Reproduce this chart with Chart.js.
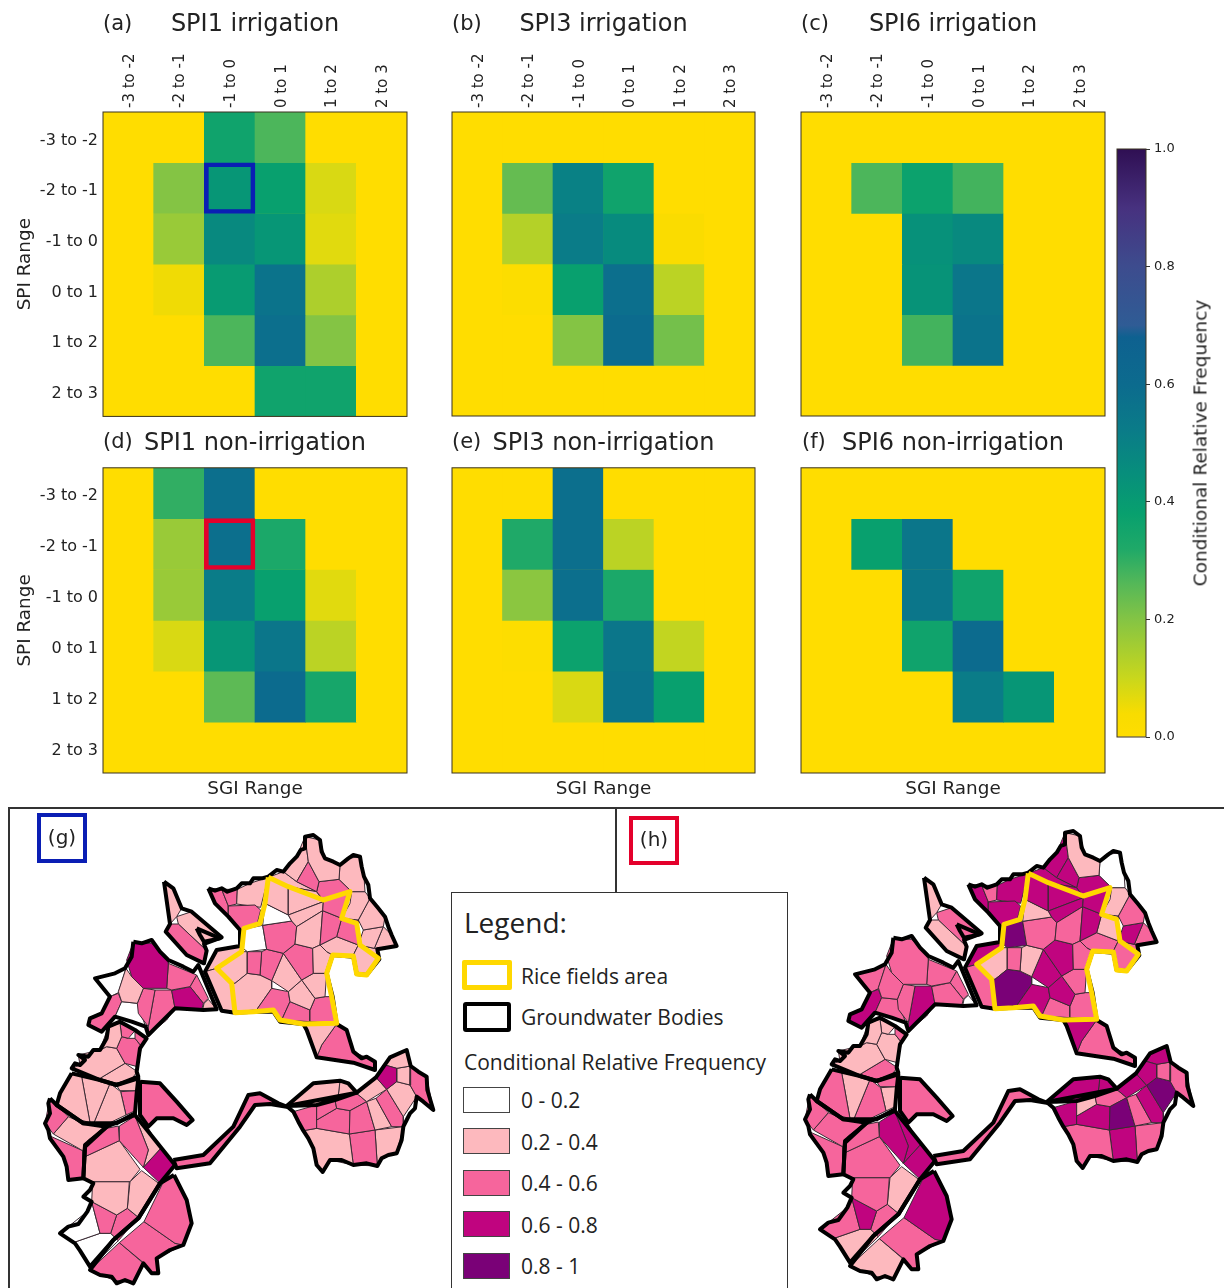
<!DOCTYPE html>
<html>
<head>
<meta charset="utf-8">
<script src="https://cdn.jsdelivr.net/npm/chart.js@4"></script>
<style>
html, body { margin: 0; padding: 0; background: #fff; }
#page { position: relative; width: 1224px; height: 1288px; overflow: hidden; font-family: "DejaVu Sans", sans-serif; color: #222; }
canvas { position: absolute; }
.tag { position: absolute; font-size: 21px; line-height: 24px; white-space: nowrap; }
.rule { position: absolute; background: #333; }
.mapTag { position: absolute; box-sizing: border-box; border-width: 4px; border-style: solid; font-size: 20px; text-align: center; }
#barTitle { position: absolute; left: 1200px; top: 443px; font-size: 18.5px; white-space: nowrap; transform: translate(-50%, -50%) rotate(-90deg); }
#legend { position: absolute; left: 451px; top: 892px; width: 337px; height: 400px; box-sizing: border-box; border: 1.5px solid #333; background: #fff; font-family: "Open Sans", sans-serif; }
#legend div { position: absolute; white-space: nowrap; }
#legend .label { font-size: 21px; line-height: 28px; left: 69px; }
#legend .swatch { left: 11px; width: 47px; height: 26px; box-sizing: border-box; border: 1.5px solid #444; }
</style>
</head>
<body>
<div id="page">
  <div class="rule" style="left:8px;top:807px;width:1216px;height:1.5px"></div>
  <div class="rule" style="left:8px;top:807px;width:1.5px;height:481px"></div>
  <div class="rule" style="left:615px;top:807px;width:1.5px;height:85px"></div>

  <canvas id="mapG" width="615" height="488" style="left:0;top:800px"></canvas>
  <canvas id="mapH" width="608" height="488" style="left:616px;top:800px"></canvas>

  <canvas id="heatA" width="419" height="431" style="left:0;top:0"></canvas>
  <canvas id="heatB" width="327" height="428" style="left:440px;top:0"></canvas>
  <canvas id="heatC" width="328" height="428" style="left:789px;top:0"></canvas>
  <canvas id="heatD" width="419" height="375" style="left:0;top:425px"></canvas>
  <canvas id="heatE" width="327" height="375" style="left:440px;top:425px"></canvas>
  <canvas id="heatF" width="328" height="375" style="left:789px;top:425px"></canvas>
  <canvas id="colorbar" width="124" height="620" style="left:1100px;top:130px"></canvas>
  <div id="barTitle">Conditional Relative Frequency</div>

  <div class="tag" style="left:103px;top:11px">(a)</div>
  <div class="tag" style="left:452px;top:11px">(b)</div>
  <div class="tag" style="left:801px;top:11px">(c)</div>
  <div class="tag" style="left:103px;top:429px">(d)</div>
  <div class="tag" style="left:452px;top:429px">(e)</div>
  <div class="tag" style="left:802px;top:429px">(f)</div>
  <div class="mapTag" style="left:37px;top:813px;width:50px;height:50px;border-color:#0a1eb4;line-height:40px">(g)</div>
  <div class="mapTag" style="left:629px;top:816px;width:50px;height:49px;border-color:#e4002b;line-height:39px">(h)</div>

  <div id="legend">
    <div style="left:12px;top:10px;font-size:28px;line-height:38px">Legend:</div>
    <div class="swatch" style="left:10px;top:67px;width:50px;height:30px;border:5px solid #ffd800;border-radius:2px"></div>
    <div class="label" style="top:69px">Rice fields area</div>
    <div class="swatch" style="left:11px;top:109px;width:48px;height:30px;border:4px solid #000;border-radius:3px"></div>
    <div class="label" style="top:110px">Groundwater Bodies</div>
    <div class="label" style="left:12px;top:155px">Conditional Relative Frequency</div>
    <div class="swatch" style="top:194px;background:#fff"></div><div class="label" style="top:193px">0 - 0.2</div>
    <div class="swatch" style="top:235px;background:#fdb9be"></div><div class="label" style="top:235px">0.2 - 0.4</div>
    <div class="swatch" style="top:277px;background:#f6659c"></div><div class="label" style="top:276px">0.4 - 0.6</div>
    <div class="swatch" style="top:318px;background:#c0047f"></div><div class="label" style="top:318px">0.6 - 0.8</div>
    <div class="swatch" style="top:360px;background:#7a0177"></div><div class="label" style="top:359px">0.8 - 1</div>
  </div>
</div>

<script>
// heatmap labels
const sgiLabels = ['-3 to -2', '-2 to -1', '-1 to 0', '0 to 1', '1 to 2', '2 to 3'];
const spiLabels = ['-3 to -2', '-2 to -1', '-1 to 0', '0 to 1', '1 to 2', '2 to 3'];

// conditional relative frequency, rows = SPI, columns = SGI
const spi1Irrigation = [
    [0, 0, 0.36, 0.27, 0, 0],
    [0, 0.2, 0.42, 0.38, 0.08, 0],
    [0, 0.17, 0.47, 0.42, 0.07, 0],
    [0, 0.05, 0.4, 0.56, 0.14, 0],
    [0, 0, 0.27, 0.58, 0.2, 0],
    [0, 0, 0, 0.36, 0.36, 0]
];
const spi3Irrigation = [
    [0, 0, 0, 0, 0, 0],
    [0, 0.24, 0.5, 0.36, 0, 0],
    [0, 0.13, 0.52, 0.46, 0.03, 0],
    [0, 0.02, 0.38, 0.58, 0.12, 0],
    [0, 0, 0.2, 0.6, 0.22, 0],
    [0, 0, 0, 0, 0, 0]
];
const spi6Irrigation = [
    [0, 0, 0, 0, 0, 0],
    [0, 0.27, 0.37, 0.28, 0, 0],
    [0, 0, 0.44, 0.47, 0, 0],
    [0, 0, 0.43, 0.55, 0, 0],
    [0, 0, 0.28, 0.56, 0, 0],
    [0, 0, 0, 0, 0, 0]
];
const spi1NonIrrigation = [
    [0, 0.3, 0.58, 0, 0, 0],
    [0, 0.17, 0.58, 0.33, 0, 0],
    [0, 0.17, 0.52, 0.38, 0.07, 0],
    [0, 0.08, 0.42, 0.55, 0.12, 0],
    [0, 0, 0.25, 0.6, 0.34, 0],
    [0, 0, 0, 0, 0, 0]
];
const spi3NonIrrigation = [
    [0, 0, 0.58, 0, 0, 0],
    [0, 0.32, 0.58, 0.12, 0, 0],
    [0, 0.19, 0.58, 0.33, 0, 0],
    [0, 0.01, 0.37, 0.55, 0.11, 0],
    [0, 0, 0.08, 0.56, 0.38, 0],
    [0, 0, 0, 0, 0, 0]
];
const spi6NonIrrigation = [
    [0, 0, 0, 0, 0, 0],
    [0, 0.38, 0.55, 0, 0, 0],
    [0, 0, 0.55, 0.36, 0, 0],
    [0, 0, 0.36, 0.6, 0, 0],
    [0, 0, 0, 0.52, 0.42, 0],
    [0, 0, 0, 0, 0, 0]
];

// colour map of the heatmaps and colour bar
const colorStops = [
    [0, '#ffdd00'], [0.04, '#f8dc00'], [0.1, '#c9d71c'], [0.2, '#84c444'], [0.26, '#55b858'],
    [0.32, '#1fa968'], [0.38, '#08a06e'], [0.45, '#078e7c'], [0.52, '#0a7c88'], [0.6, '#0c6b8e'],
    [0.68, '#0e6190'], [0.7, '#2f5c95'], [0.8, '#3d4c8e'], [0.9, '#47317f'], [1, '#2f0f53']
];

// choropleth classes
const classColors = ['#ffffff', '#fdb9be', '#f6659c', '#c0047f', '#7a0177'];

// eastern part of the map, in the frame shifted by eastShift
const eastShift = [420, 60];
const eastCells = [
    [[495,50],[540,60],[555,115],[600,135],[597,178],[537,185],[505,125]],
    [[505,125],[537,185],[530,215],[470,185]],
    [[430,155],[470,110],[495,50],[505,125],[470,185]],
    [[600,135],[625,115],[660,110],[672,170],[675,215],[635,215],[597,178]],
    [[537,185],[597,178],[635,215],[550,240],[530,215]],
    [[635,215],[675,215],[690,235],[655,300],[605,295],[630,250]],
    [[690,235],[735,290],[730,320],[670,330],[655,300]],
    [[670,330],[730,320],[703,385],[655,375]],
    [[730,320],[755,345],[770,378],[703,385]],
    [[655,375],[703,385],[712,388],[718,418],[680,465],[650,462],[640,405]],
    [[550,245],[630,215],[605,295],[548,272]],
    [[548,272],[605,295],[590,350],[540,375]],
    [[605,295],[655,300],[655,375],[590,350]],
    [[540,375],[590,350],[655,375],[640,405],[578,405],[560,395]],
    [[518,385],[540,375],[560,395],[578,405],[560,460],[520,460]],
    [[470,320],[548,272],[540,375],[518,385],[465,372]],
    [[445,285],[550,245],[548,272],[470,320],[455,303]],
    [[445,200],[530,215],[550,245],[445,285]],
    [[385,172],[445,200],[445,285],[375,250]],
    [[385,172],[430,155],[470,185],[530,215],[445,200]],
    [[375,250],[445,285],[455,303],[368,316]],
    [[368,316],[455,303],[470,320],[465,372],[430,400],[380,388]],
    [[300,330],[368,316],[380,388],[322,395],[300,378]],
    [[322,395],[365,395],[360,465],[322,460]],
    [[365,395],[380,388],[430,400],[395,482],[360,465]],
    [[430,400],[465,372],[518,385],[520,460],[485,480]],
    [[430,400],[485,480],[445,515],[395,482]],
    [[485,480],[520,460],[560,460],[555,530],[525,535]],
    [[485,480],[525,535],[510,570],[450,545],[445,515]],
    [[525,535],[555,530],[578,530],[590,610],[510,605],[510,570]],
    [[450,545],[510,570],[510,605],[425,600]],
    [[395,505],[445,515],[450,545],[425,600],[400,572],[348,572]],
    [[285,490],[322,460],[360,465],[395,482],[395,505],[348,572],[285,578],[275,490]],
    [[230,445],[305,395],[322,395],[322,460],[285,490],[275,490]],
    [[195,455],[230,445],[275,490],[285,578],[245,570]],
    [[230,390],[300,378],[305,395],[230,445],[195,455]],
    [[265,258],[345,255],[362,270],[352,310],[300,330],[265,290]],
    [[292,208],[330,190],[385,172],[362,262],[290,252]],
    [[245,208],[292,208],[290,252],[265,258]],
    [[205,205],[245,208],[265,258],[265,290],[225,250]],
    [[490,612],[590,612],[545,675],[530,712],[500,630]],
    [[590,612],[620,630],[640,695],[705,725],[705,750],[640,728],[530,712],[545,675]],
    [[735,735],[770,745],[770,785],[740,808],[708,772]],
    [[750,712],[800,690],[812,738],[770,745],[735,735]],
    [[770,745],[812,738],[810,795],[770,785]],
    [[812,738],[860,770],[880,870],[830,830],[810,795]],
    [[650,820],[708,772],[740,808],[680,845]],
    [[740,808],[770,785],[810,795],[830,830],[790,890]],
    [[708,835],[740,808],[790,890],[790,920],[755,920]],
    [[680,845],[708,835],[755,920],[705,930]],
    [[630,872],[680,845],[705,930],[628,942]],
    [[585,840],[650,820],[680,845],[630,872],[590,865]],
    [[440,858],[520,790],[600,782],[595,825],[530,855],[470,860]],
    [[600,782],[625,790],[650,820],[585,840],[595,825]],
    [[530,855],[585,840],[590,865],[530,900]],
    [[530,900],[590,865],[630,872],[628,942],[530,925]],
    [[460,875],[530,855],[530,925],[490,932]],
    [[490,932],[530,925],[628,942],[640,1035],[570,1020],[548,1056],[530,1035],[520,985]],
    [[628,942],[705,930],[712,1038],[640,1035]],
    [[705,930],[790,920],[770,1000],[725,1015],[712,1038]],
    [[100,1020],[190,1005],[280,920],[325,825],[360,820],[415,850],[440,860],[390,852],[345,855],[300,920],[210,1030],[110,1045]]
];
const eastClassG = [1,2,1,1,2,1,1,1,1,1,2,2,2,1,1,1,1,1,1,1,0,2,0,2,2,2,1,1,1,2,2,2,1,1,1,1,2,1,2,2,1,2,3,1,1,2,1,1,2,1,2,2,1,1,2,2,2,1,2,1,2];
const eastClassH = [1,3,3,0,3,1,2,3,2,2,3,3,1,2,2,2,3,3,3,3,1,2,4,2,1,3,3,2,3,2,2,3,4,1,2,3,3,3,2,3,3,2,3,3,2,2,3,4,3,2,4,2,3,3,1,3,3,2,3,2,2];

// western part of the map
const westCells = [
    [[492,245],[520,265],[545,325],[530,350],[510,372]],
    [[497,395],[510,372],[535,372],[620,452],[612,490],[560,465]],
    [[530,350],[575,335],[665,412],[612,432],[620,452],[535,372]],
    [[380,480],[400,428],[455,430],[505,480],[505,490],[500,565],[430,565],[395,530]],
    [[505,490],[590,525],[570,560],[515,570],[500,565]],
    [[515,572],[570,560],[610,610],[605,630],[525,625]],
    [[590,525],[625,595],[610,610],[570,560]],
    [[612,610],[625,598],[650,628],[608,630]],
    [[378,505],[395,530],[430,565],[412,610],[365,605],[355,575]],
    [[430,565],[465,570],[445,680],[415,640],[412,610]],
    [[465,570],[515,570],[525,625],[500,660],[445,705],[445,680]],
    [[365,605],[412,610],[437,680],[395,665],[345,650]],
    [[355,580],[365,605],[345,650],[305,695],[265,675],[270,655],[305,640],[330,590]],
    [[285,535],[345,520],[378,505],[355,578],[330,590]],
    [[325,680],[360,670],[365,710],[350,745],[320,740],[300,750]],
    [[360,670],[405,692],[385,715],[365,710]],
    [[405,692],[440,715],[425,740],[405,715]],
    [[385,715],[405,715],[425,740],[412,800],[375,790],[350,745],[365,710]],
    [[320,740],[350,745],[375,790],[295,838],[215,805],[240,795],[235,765],[300,750]],
    [[375,790],[412,815],[392,840],[345,850],[295,838]],
    [[392,840],[415,830],[410,872],[360,872],[345,850]],
    [[215,820],[245,830],[270,968],[225,955],[170,912],[180,880]],
    [[245,830],[330,850],[282,968],[270,968]],
    [[330,850],[362,875],[378,945],[330,968],[282,968]],
    [[362,875],[410,872],[405,932],[378,945]],
    [[420,845],[480,850],[530,905],[578,960],[560,975],[520,955],[470,955],[445,980],[420,945]],
    [[150,895],[170,915],[205,950],[160,1002],[135,970]],
    [[205,950],[250,970],[320,980],[265,1020],[248,1052],[160,1002]],
    [[150,1008],[248,1052],[250,1135],[205,1140],[190,1070]],
    [[255,1048],[265,1020],[320,985],[355,978],[358,1022],[255,1070]],
    [[358,978],[405,948],[445,1050],[430,1102],[358,1022]],
    [[405,948],[445,985],[482,1045],[430,1102],[445,1050]],
    [[255,1070],[358,1022],[420,1108],[390,1145],[278,1145],[250,1135]],
    [[430,1102],[482,1045],[522,1092],[480,1150]],
    [[278,1145],[388,1145],[382,1225],[350,1245],[275,1205]],
    [[390,1145],[425,1112],[476,1150],[415,1252],[382,1225]],
    [[275,1205],[350,1245],[332,1300],[300,1300]],
    [[350,1245],[382,1225],[415,1252],[355,1322],[332,1300]],
    [[180,1300],[265,1232],[275,1205],[300,1300],[225,1326]],
    [[225,1326],[300,1300],[332,1300],[355,1322],[270,1405],[240,1352]],
    [[522,1125],[560,1200],[575,1270],[550,1335],[525,1330],[432,1265],[488,1150]],
    [[432,1265],[525,1330],[550,1335],[470,1375],[475,1420],[455,1420],[430,1388],[358,1328]],
    [[358,1328],[428,1388],[400,1450],[340,1440],[270,1410]]
];
const westClassG = [1,2,1,3,2,3,2,1,1,2,2,0,2,0,1,2,2,2,1,1,1,1,1,1,2,2,2,1,2,2,2,1,1,3,1,1,2,2,0,0,2,2,2];
const westClassH = [1,1,2,2,2,2,2,0,2,2,3,2,3,2,1,1,2,1,1,2,2,2,1,2,1,2,2,2,2,2,3,3,2,3,2,1,3,2,2,1,3,2,1];

// groundwater bodies (thick outlines)
const eastBodies = [
    [[205,205],[225,212],[245,205],[262,215],[290,205],[305,190],[330,190],[340,175],[365,175],[385,170],[410,150],[430,155],[450,130],[470,110],[482,90],[495,85],[495,50],[520,45],[540,60],[545,95],[555,115],[580,125],[600,135],[625,115],[640,105],[660,110],[665,140],[672,170],[685,195],[690,235],[715,265],[735,290],[745,320],[755,345],[770,378],[712,388],[718,418],[680,465],[650,462],[640,410],[578,405],[560,460],[578,530],[590,612],[620,630],[640,695],[665,715],[680,710],[705,725],[705,750],[640,728],[530,712],[500,630],[490,612],[420,605],[400,575],[340,575],[285,578],[245,572],[195,455],[230,390],[300,378],[300,330],[265,290],[225,250]],
    [[440,858],[520,790],[600,782],[625,790],[650,818],[708,772],[750,712],[800,690],[812,738],[835,755],[860,770],[862,810],[880,870],[850,845],[830,830],[825,865],[810,880],[800,900],[790,920],[785,960],[770,1000],[745,1005],[725,1015],[712,1038],[680,1030],[640,1035],[605,1020],[570,1020],[548,1056],[530,1035],[520,985],[505,955],[490,932],[475,905],[460,875]],
    [[440,858],[530,855],[585,840],[650,818]],
    [[100,1020],[190,1005],[280,920],[325,825],[360,820],[415,850],[440,860],[390,852],[345,855],[300,920],[210,1030],[110,1045]]
];
const westBodies = [
    [[492,245],[520,265],[545,325],[575,335],[665,412],[612,432],[620,452],[612,490],[560,465],[497,395],[510,372]],
    [[590,385],[660,415],[612,425],[600,405]],
    [[400,425],[425,430],[455,420],[480,455],[505,480],[550,500],[580,515],[595,495],[650,628],[610,630],[525,625],[445,705],[437,680],[395,665],[345,650],[305,695],[265,675],[270,655],[305,640],[330,590],[285,535],[345,520],[375,505],[395,470]],
    [[325,680],[360,665],[405,690],[440,715],[420,745],[410,815],[415,830],[350,855],[300,840],[215,805],[225,790],[240,795],[255,780],[235,765],[265,770],[280,750],[300,750],[320,715]],
    [[215,820],[300,840],[350,855],[415,835],[410,880],[405,940],[350,970],[250,970],[170,915],[180,880]],
    [[420,845],[480,850],[530,905],[578,960],[560,975],[520,955],[470,955],[445,980],[420,945]],
    [[150,895],[170,915],[250,970],[320,980],[255,1035],[250,1135],[205,1140],[200,1100],[190,1070],[150,1015],[145,990],[135,970],[150,940],[145,910]],
    [[255,1040],[320,980],[405,945],[525,1095],[480,1150],[415,1255],[340,1320],[270,1400],[240,1352],[225,1330],[180,1300],[205,1280],[235,1272],[262,1235],[275,1205],[250,1190],[270,1170],[280,1150],[250,1135]],
    [[522,1125],[560,1200],[575,1270],[550,1335],[510,1350],[470,1375],[475,1420],[455,1420],[430,1390],[415,1420],[400,1450],[375,1440],[350,1450],[335,1430],[300,1425],[270,1410],[340,1320],[415,1255],[480,1150]]
];

// rice fields area outline
const riceOutline = [[385,172],[445,200],[550,240],[630,215],[605,295],[650,310],[660,375],[715,415],[680,465],[650,462],[640,408],[578,405],[560,460],[575,530],[590,610],[490,612],[420,600],[400,570],[340,575],[285,578],[275,490],[230,445],[305,395],[312,325],[360,310],[375,250]];

function hexToRgb(hex) {
    return [1, 3, 5].map(function (i) { return parseInt(hex.substr(i, 2), 16); });
}

function valueColor(v) {
    for (let i = 1; i < colorStops.length; i++) {
        if (v <= colorStops[i][0]) {
            let a = colorStops[i - 1], b = colorStops[i];
            let t = (v - a[0]) / (b[0] - a[0]);
            let ca = hexToRgb(a[1]), cb = hexToRgb(b[1]);
            return 'rgb(' + ca.map(function (c, k) { return Math.round(c + (cb[k] - c) * t); }).join(',') + ')';
        }
    }
    return colorStops[colorStops.length - 1][1];
}

// yellow ground and thin frame round the axes
const framePlugin = {
    id: 'frame',
    beforeDatasetsDraw(chart) {
        let a = chart.chartArea;
        if (chart.canvas.id === 'colorbar') return;
        chart.ctx.fillStyle = colorStops[0][1];
        chart.ctx.fillRect(a.left, a.top, a.right - a.left, a.bottom - a.top);
    },
    afterDraw(chart) {
        let a = chart.chartArea, ctx = chart.ctx;
        ctx.save();
        ctx.strokeStyle = '#3a3320';
        ctx.lineWidth = 1;
        ctx.strokeRect(a.left, a.top, a.right - a.left, a.bottom - a.top);
        ctx.restore();
    }
};

function makeHeatmap(id, title, matrix, opts) {
    let datasets = [];
    if (opts.mark) {
        datasets.push({
            data: sgiLabels.map(function (l, c) { return c === opts.mark[1] ? [opts.mark[0], opts.mark[0] + 1] : null; }),
            backgroundColor: 'rgba(0,0,0,0)',
            borderColor: opts.markColor,
            borderWidth: 4,
            borderSkipped: false
        });
    }
    matrix.forEach(function (row, r) {
        datasets.push({
            data: row.map(function () { return [r, r + 1]; }),
            backgroundColor: row.map(valueColor)
        });
    });
    let isTop = opts.row === 0;
    new Chart(document.getElementById(id), {
        type: 'bar',
        data: { labels: sgiLabels, datasets: datasets },
        options: {
            responsive: false,
            animation: false,
            grouped: false,
            barPercentage: 1,
            categoryPercentage: 1,
            layout: { padding: { top: 0, right: 12, bottom: isTop ? 12 : 0, left: 0 } },
            plugins: {
                legend: { display: false },
                tooltip: { enabled: false },
                title: {
                    display: true,
                    text: title,
                    fullSize: false,
                    color: '#222',
                    font: { family: 'DejaVu Sans', size: 24, weight: 'normal' },
                    padding: isTop ? { top: 10, bottom: 0 } : { top: 4, bottom: 10 }
                }
            },
            scales: {
                x: {
                    position: isTop ? 'top' : 'bottom',
                    grid: { display: false, drawTicks: false },
                    border: { display: false },
                    afterFit: function (s) { s.height = isTop ? 73.2 : 27; },
                    ticks: {
                        display: isTop,
                        autoSkip: false,
                        minRotation: 90,
                        maxRotation: 90,
                        padding: 4,
                        labelOffset: 19.5,
                        color: '#222',
                        font: { family: 'DejaVu Sans', size: 15 }
                    },
                    title: {
                        display: !isTop,
                        text: 'SGI Range',
                        color: '#222',
                        font: { family: 'DejaVu Sans', size: 18.4 },
                        padding: { top: 3, bottom: 0 }
                    }
                },
                y: {
                    min: 0,
                    max: 6,
                    reverse: true,
                    grid: { display: false, drawTicks: false },
                    border: { display: false },
                    afterFit: function (s) { s.width = opts.axisWidth; },
                    afterBuildTicks: function (s) {
                        s.ticks = spiLabels.map(function (l, i) { return { value: i + 0.5 }; });
                    },
                    ticks: {
                        display: opts.axisWidth > 50,
                        autoSkip: false,
                        padding: 5,
                        labelOffset: 3,
                        color: '#222',
                        font: { family: 'DejaVu Sans', size: 16 },
                        callback: function (v) { return spiLabels[Math.floor(v)]; }
                    },
                    title: {
                        display: opts.axisWidth > 50,
                        text: 'SPI Range',
                        color: '#222',
                        font: { family: 'DejaVu Sans', size: 18.4 },
                        padding: { top: 14, bottom: 0 }
                    }
                }
            }
        },
        plugins: [framePlugin]
    });
}

function makeColorbar() {
    new Chart(document.getElementById('colorbar'), {
        type: 'bar',
        data: {
            labels: [''],
            datasets: [{
                data: [[0, 1]],
                backgroundColor: function (context) {
                    let a = context.chart.chartArea;
                    if (!a) return colorStops[0][1];
                    let g = context.chart.ctx.createLinearGradient(0, a.bottom, 0, a.top);
                    colorStops.forEach(function (s) { g.addColorStop(s[0], s[1]); });
                    return g;
                }
            }]
        },
        options: {
            responsive: false,
            animation: false,
            barPercentage: 1,
            categoryPercentage: 1,
            layout: { padding: { top: 19, right: 0, bottom: 13, left: 17 } },
            plugins: { legend: { display: false }, tooltip: { enabled: false } },
            scales: {
                x: { display: false },
                y: {
                    position: 'right',
                    min: 0,
                    max: 1,
                    border: { display: false },
                    grid: { drawOnChartArea: false, tickLength: 4, color: '#333' },
                    afterFit: function (s) { s.width = 78; },
                    ticks: {
                        stepSize: 0.2,
                        padding: 4,
                        color: '#222',
                        font: { family: 'DejaVu Sans', size: 13 },
                        callback: function (v) { return v.toFixed(1); }
                    }
                }
            }
        },
        plugins: [framePlugin]
    });
}

function toPoints(poly, shift) {
    let pts = poly.map(function (p) { return { x: p[0] + shift[0], y: p[1] + shift[1] }; });
    pts.push(pts[0]);
    return pts;
}

function outlineDataset(poly, shift, color, width) {
    return {
        data: toPoints(poly, shift),
        showLine: true,
        fill: false,
        borderColor: color,
        borderWidth: width,
        borderJoinStyle: 'round',
        pointRadius: 0,
        tension: 0
    };
}

function cellDataset(poly, shift, cls) {
    return {
        data: toPoints(poly, shift),
        showLine: true,
        fill: 'shape',
        backgroundColor: classColors[cls],
        borderColor: '#3a2a33',
        borderWidth: 1,
        pointRadius: 0,
        tension: 0
    };
}

function makeMap(id, eastClass, westClass, xRange, yRange) {
    let noShift = [0, 0];
    // first dataset is painted last
    let datasets = [outlineDataset(riceOutline, eastShift, '#ffd800', 5)];
    eastBodies.forEach(function (b) { datasets.push(outlineDataset(b, eastShift, '#000', 4)); });
    westBodies.forEach(function (b) { datasets.push(outlineDataset(b, noShift, '#000', 4)); });
    eastCells.forEach(function (c, i) { datasets.push(cellDataset(c, eastShift, eastClass[i])); });
    westCells.forEach(function (c, i) { datasets.push(cellDataset(c, noShift, westClass[i])); });
    new Chart(document.getElementById(id), {
        type: 'scatter',
        data: { datasets: datasets },
        options: {
            responsive: false,
            animation: false,
            layout: { padding: 0 },
            plugins: { legend: { display: false }, tooltip: { enabled: false } },
            scales: {
                x: { display: false, min: xRange[0], max: xRange[1] },
                y: { display: false, reverse: true, min: yRange[0], max: yRange[1] }
            }
        }
    });
}

makeHeatmap('heatA', 'SPI1 irrigation', spi1Irrigation, { row: 0, axisWidth: 103, mark: [1, 2], markColor: '#0a1eb4' });
makeHeatmap('heatB', 'SPI3 irrigation', spi3Irrigation, { row: 0, axisWidth: 12 });
makeHeatmap('heatC', 'SPI6 irrigation', spi6Irrigation, { row: 0, axisWidth: 12 });
makeHeatmap('heatD', 'SPI1 non-irrigation', spi1NonIrrigation, { row: 1, axisWidth: 103, mark: [1, 2], markColor: '#e4002b' });
makeHeatmap('heatE', 'SPI3 non-irrigation', spi3NonIrrigation, { row: 1, axisWidth: 12 });
makeHeatmap('heatF', 'SPI6 non-irrigation', spi6NonIrrigation, { row: 1, axisWidth: 12 });
makeColorbar();
makeMap('mapG', eastClassG, westClassG, [0, 1845], [0, 1464]);
makeMap('mapH', eastClassH, westClassH, [-432, 1392], [12, 1476]);
</script>
</body>
</html>
